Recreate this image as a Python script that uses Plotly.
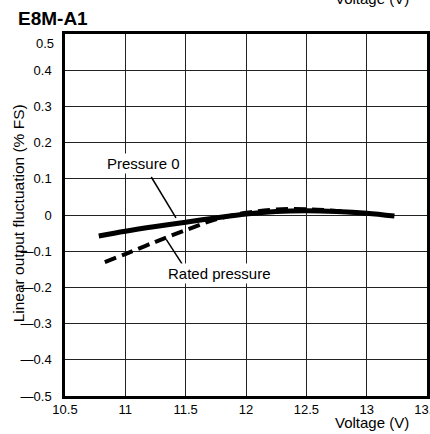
import plotly.graph_objects as go

# Pressure 0 (solid)
p0_voltage = [10.78, 11.0, 11.25, 11.5, 11.75, 12.0, 12.25, 12.5, 12.75, 13.0, 13.23]
p0_fluct = [-0.058, -0.045, -0.032, -0.02, -0.008, 0.003, 0.01, 0.012, 0.01, 0.005, -0.003]

# Rated pressure (dashed)
rated_voltage = [10.83, 11.0, 11.25, 11.5, 11.75, 12.0, 12.25, 12.5, 12.75, 13.0]
rated_fluct = [-0.13, -0.108, -0.074, -0.042, -0.012, 0.006, 0.015, 0.016, 0.011, 0.004]

x_ticks = [10.5, 11, 11.5, 12, 12.5, 13, 13.5]
x_labels = ['10.5', '11', '11.5', '12', '12.5', '13', '13.5']
y_ticks = [0.5, 0.4, 0.3, 0.2, 0.1, 0, -0.1, -0.2, -0.3, -0.4, -0.5]
y_labels = ['0.5', '0.4', '0.3', '0.2', '0.1', '0', '—0.1', '—0.2', '—0.3', '—0.4', '—0.5']

FONT = 'Liberation Sans, Arial, sans-serif'

fig = go.Figure()
fig.add_trace(go.Scatter(x=p0_voltage, y=p0_fluct, mode='lines', line_shape='spline',
                         line=dict(color='black', width=5), showlegend=False, hoverinfo='skip'))
fig.add_trace(go.Scatter(x=rated_voltage, y=rated_fluct, mode='lines', line_shape='spline',
                         line=dict(color='black', width=4, dash='12px,6px'), showlegend=False,
                         hoverinfo='skip'))

# leader lines for the labels
fig.add_shape(type='line', x0=11.215, y0=0.105, x1=11.42, y1=-0.008,
              line=dict(color='black', width=1.5))
fig.add_shape(type='line', x0=11.34, y0=-0.068, x1=11.47, y1=-0.135,
              line=dict(color='black', width=1.5))


def note(text, x, y, size=15, ref='data', **kw):
    fig.add_annotation(x=x, y=y, xref='x' if ref == 'data' else 'paper',
                       yref='y' if ref == 'data' else 'paper', text=text, showarrow=False,
                       xanchor='center', yanchor='middle',
                       font=dict(size=size, color='black', family=FONT), **kw)


note('Pressure 0', 11.153, 0.141, bgcolor='white')
note('Rated pressure', 11.78, -0.162, bgcolor='white')
note('<b>E8M-A1</b>', -0.034, 1.043, size=19, ref='paper')
note('Voltage (V)', 0.847, 1.097, ref='paper')
note('Voltage (V)', 0.849, -0.072, ref='paper')
note('Linear output fluctuation (% FS)', -0.129, 0.5055, size=15.5, ref='paper', textangle=-90)

# top tick label sits a little below the frame in the original
fig.add_annotation(x=0, y=y_ticks[0], xref='paper', yref='y', text=y_labels[0], showarrow=False,
                   xanchor='right', yanchor='middle', xshift=-9, yshift=-9,
                   font=dict(size=13, color='black', family=FONT))
y_text = [''] + y_labels[1:]

fig.update_xaxes(range=[10.5, 13.5], tickvals=x_ticks, ticktext=x_labels,
                 showgrid=True, gridcolor='#222', gridwidth=1, zeroline=False,
                 showline=True, linecolor='black', linewidth=2.5, mirror=True,
                 ticks='', ticklabelstandoff=0, ticklabeloverflow='allow', automargin=False,
                 tickfont=dict(size=13, color='black', family=FONT))
fig.update_yaxes(range=[-0.5, 0.5], tickvals=y_ticks, ticktext=y_text,
                 showgrid=True, gridcolor='#222', gridwidth=1, zeroline=False,
                 showline=True, linecolor='black', linewidth=2.5, mirror=True,
                 ticks='', ticklabelstandoff=8,
                 tickfont=dict(size=13, color='black', family=FONT))

fig.update_layout(width=430, height=434,
                  margin=dict(l=65, r=0, t=34, b=38),
                  plot_bgcolor='white', paper_bgcolor='white', hovermode=False)

fig.write_html("out.html", config={'displayModeBar': False},
               post_script="document.body.style.margin='0';")
